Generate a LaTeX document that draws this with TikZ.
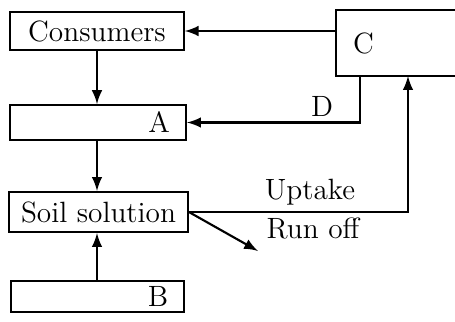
\documentclass[tikz,border=0pt]{standalone}
\usetikzlibrary{arrows}
\begin{document}
\begin{tikzpicture}[x=0.375pt,y=-0.375pt,thick,
	every node/.style={font=\fontsize{11}{13}\selectfont},
	box/.style={draw,thick,inner sep=0pt,minimum height=#1},
	box/.default=14pt]
	\useasboundingbox (0,0) rectangle (455,322);
	\clip (0,0) rectangle (455,322);
	% boxes
	\node[box,minimum width=65pt] (cons) at (97,31) {Consumers};
	\node[box=13pt,text width=54pt,inner xsep=6pt,align=right] (A) at (98,122.5) {A};
	\node[box=15pt,minimum width=67pt] (soil) at (98.5,212) {Soil solution};
	\node[box=11.6pt,text width=53pt,inner xsep=6pt,align=right] (B) at (97.5,296.5) {B};
	% C runs off the right margin, so only three sides are drawn
	\node[box=24pt,draw=none,text width=60pt,inner xsep=6pt,align=left,anchor=west] (C) at (336,43) {C};
	\draw (C.north east) -- (C.north west) -- (C.south west) -- (C.south east);
	% links
	\draw[-latex] (cons.south) -- (cons.south |- A.north);
	\draw[-latex] (cons.south |- A.south) -- (cons.south |- soil.north);
	\draw[-latex] (cons.south |- B.north) -- (cons.south |- soil.south);
	\draw[-latex] (C.west |- cons.east) -- (cons.east);
	\draw[-latex] ([xshift=9pt]C.south west) |- (A.east);
	\draw[-latex] (soil.east) -| ([xshift=27pt]C.south west);
	\coordinate (runoff) at (258,251);
	\draw[-latex] (soil.east) -- (runoff);
	% labels
	\node (lD) at (322,106) {D};
	\node (lup) at (310,192) {Uptake};
	\node (lro) at (313,228) {Run off};
\end{tikzpicture}
\end{document}
